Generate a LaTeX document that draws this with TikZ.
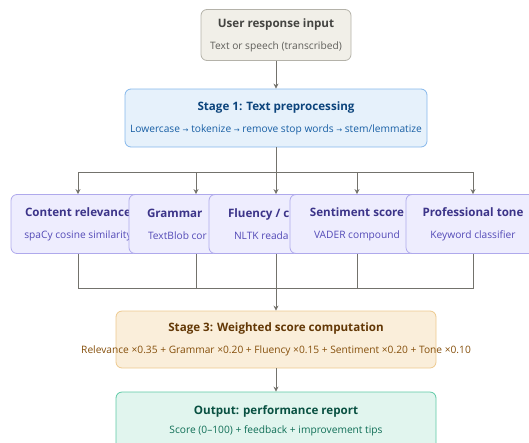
\documentclass[tikz,border=0pt]{standalone}
\usepackage{fontspec}
\setmainfont{Open Sans}
\newfontfamily\arrowfont{DejaVu Sans}
\usetikzlibrary{arrows.meta}

\definecolor{inFill}{HTML}{F1EFE8}
\definecolor{inLine}{HTML}{B4B2A9}
\definecolor{inText}{HTML}{444441}
\definecolor{inSub}{HTML}{5F5E5A}
\definecolor{prepFill}{HTML}{E6F1FB}
\definecolor{prepLine}{HTML}{85B7EB}
\definecolor{prepText}{HTML}{0C447C}
\definecolor{prepSub}{HTML}{185FA5}
\definecolor{featFill}{HTML}{EEEDFE}
\definecolor{featLine}{HTML}{AFA9EC}
\definecolor{featText}{HTML}{3C3489}
\definecolor{featSub}{HTML}{534AB7}
\definecolor{wsFill}{HTML}{FAEEDA}
\definecolor{wsLine}{HTML}{EDC98E}
\definecolor{wsText}{HTML}{633806}
\definecolor{wsSub}{HTML}{854F0B}
\definecolor{outFill}{HTML}{E1F5EE}
\definecolor{outLine}{HTML}{5DCAA5}
\definecolor{outText}{HTML}{085041}
\definecolor{outSub}{HTML}{0F6E56}
\definecolor{linkGray}{HTML}{73726C}

\newcommand{\subfont}{\fontsize{10.2}{12}\selectfont\mdseries}
\newcommand{\boxlines}[2]{\makebox[0pt]{#1}\\\makebox[0pt]{\color{subc}\subfont #2}}
% text of a box that the next box partly hides: lines start at given offsets
\newcommand{\cutlines}[4]{\makebox[0pt][l]{\hspace*{#1pt}#3}\\\makebox[0pt][l]{\hspace*{#2pt}\color{subc}\subfont #4}}
\newcommand{\rarr}{{\arrowfont\fontsize{7}{8}\selectfont →}}

\begin{document}
\begin{tikzpicture}[x=1pt, y=-1pt,
    flowbox/.style={draw, rounded corners=6pt, line width=0.8pt, inner sep=0pt, align=center,
      minimum width=#1, minimum height=57, font=\fontsize{11.6}{22}\selectfont\bfseries},
    input/.style={flowbox=150, minimum height=51, fill=inFill, draw=inLine, text=inText,
      execute at begin node=\colorlet{subc}{inSub}},
    prep/.style={flowbox=302, minimum height=58, fill=prepFill, draw=prepLine, text=prepText,
      execute at begin node=\colorlet{subc}{prepSub}},
    feature/.style={flowbox=134, minimum height=59, fill=featFill, draw=featLine, text=featText,
      execute at begin node=\colorlet{subc}{featSub}},
    weighted/.style={flowbox=320, fill=wsFill, draw=wsLine, text=wsText,
      execute at begin node=\colorlet{subc}{wsSub}},
    report/.style={flowbox=320, minimum height=58, fill=outFill, draw=outLine, text=outText,
      font=\fontsize{11.6}{19}\selectfont\bfseries, execute at begin node=\colorlet{subc}{outSub}},
    link/.style={draw=linkGray, line width=0.9pt},
    arr/.style={link, -{Stealth[length=5pt, width=5pt]}}]
  \useasboundingbox (0,0) rectangle (529,442);
  \clip (0,0) rectangle (529,442);

  % input and preprocessing
  \node[input] (user) at (276,35) {\boxlines{User response input}{Text or speech (transcribed)}};
  \node[prep] (clean) at (276,118) {\boxlines{Stage 1: Text preprocessing}{Lowercase \rarr{} tokenize \rarr{} remove stop words \rarr{} stem/lemmatize}};

  % feature scorers (later boxes lie over earlier ones)
  \node[feature] (rel) at (78,224) {\boxlines{Content relevance}{spaCy cosine similarity}};
  \node[feature] (gram) at (196,224) {\cutlines{-49}{-48}{Grammar}{TextBlob cor}};
  \node[feature] (flu) at (276,224) {\cutlines{-48}{-42}{Fluency / c}{NLTK reada}};
  \node[feature] (sent) at (357,224) {\boxlines{Sentiment score}{VADER compound}};
  \node[feature] (tone) at (473,224) {\boxlines{Professional tone}{Keyword classifier}};

  % scoring and output
  \node[weighted] (score) at (276,339.5) {\boxlines{Stage 3: Weighted score computation}{Relevance ×0.35 + Grammar ×0.20 + Fluency ×0.15 + Sentiment ×0.20 + Tone ×0.10}};
  \node[report] (result) at (276,421) {\boxlines{Output: performance report}{Score (0–100) + feedback + improvement tips}};

  \coordinate (split) at (276,172);
  \coordinate (join) at (276,288);

  \draw[arr] (user) -- (clean);
  \draw[link] (clean) -- (split);
  \draw[link] (split -| rel) -- (split -| tone);
  \foreach \n in {rel, gram, flu, sent, tone}
    \draw[arr] (split -| \n) -- (\n);
  \foreach \n in {rel, gram, sent, tone}
    \draw[link] (\n) |- (join);
  \draw[arr] (flu) -- (score);
  \draw[arr] (score) -- (result);
\end{tikzpicture}
\end{document}
